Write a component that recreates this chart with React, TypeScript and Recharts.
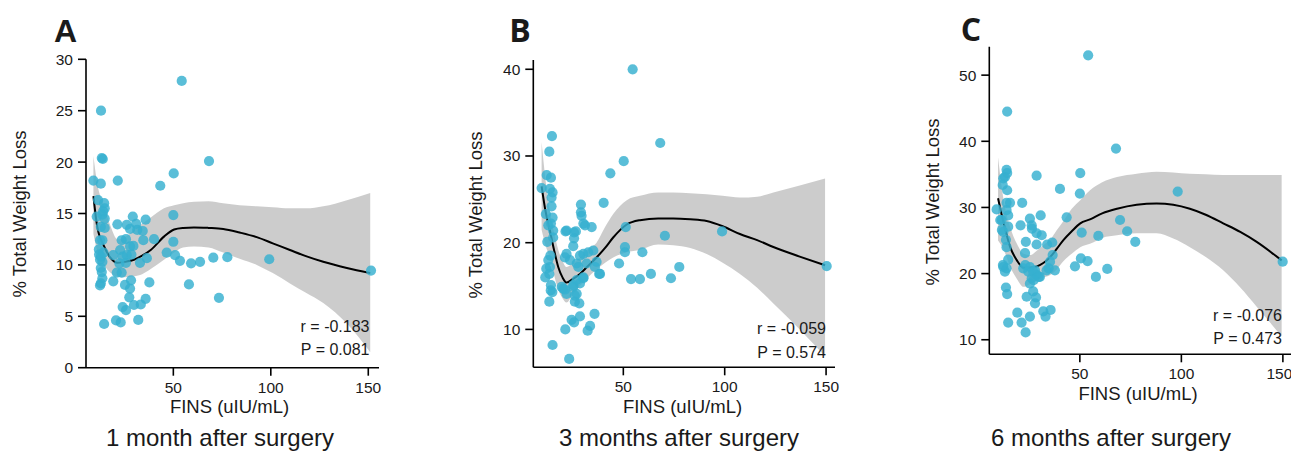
import React from 'react';
import { ComposedChart, Scatter, Area, Line, XAxis, YAxis } from 'recharts';

const FONT = '"Liberation Sans", Arial, Helvetica, sans-serif';
const TEXT = '#1a1a1a';
const POINT = '#36B0CF';

// [FINS, % total weight loss]
const oneMonthPoints = [
  [9.0, 18.2], [12.8, 17.9], [21.5, 18.2], [13.3, 20.4], [13.8, 20.3], [12.9, 25.0], [54.3, 27.9], [43.3, 17.7], [50.2, 18.9], [68.3, 20.1],
  [11.4, 16.3], [14.5, 16.0], [14.8, 15.5], [13.6, 14.9], [10.7, 14.7], [14.8, 14.5], [12.8, 13.7], [14.8, 13.6], [12.4, 12.4], [13.6, 12.4],
  [11.9, 11.0], [12.8, 10.8], [13.6, 10.3], [12.4, 10.5], [12.8, 9.7], [13.3, 9.3], [13.6, 8.7], [12.8, 8.2], [12.4, 8.0], [14.5, 4.25],
  [14.0, 15.2], [11.8, 11.5], [14.2, 11.2],
  [19.2, 8.4], [21.0, 9.25], [23.5, 9.25], [20.6, 4.6], [23.0, 4.4], [24.0, 5.9], [25.7, 5.6], [25.2, 8.05], [27.8, 7.7], [28.3, 8.5],
  [27.4, 6.85], [29.8, 6.1], [33.3, 6.15], [35.8, 6.7], [32.0, 4.65], [37.7, 8.3],
  [21.3, 13.95], [26.1, 13.9], [29.2, 14.7], [30.9, 14.0], [35.8, 14.4], [27.8, 13.5], [31.5, 13.4], [34.3, 13.3], [23.5, 12.4], [25.7, 12.5],
  [22.7, 11.45], [27.8, 11.8], [29.5, 11.85], [34.6, 12.4], [40.1, 12.5], [26.1, 10.95], [25.7, 10.2], [32.9, 10.2], [36.4, 10.65], [19.2, 10.95],
  [22.3, 10.15], [28.5, 11.0], [24.0, 10.8],
  [46.6, 11.2], [50.0, 12.25], [50.0, 14.85], [50.9, 10.95], [53.4, 10.4], [59.1, 10.15], [63.7, 10.3], [70.5, 10.7], [77.7, 10.75], [58.0, 8.1],
  [73.4, 6.8], [99.2, 10.55], [151.4, 9.45],
];

const threeMonthPoints = [
  [54.6, 40.0], [14.8, 32.3], [13.5, 30.5], [50.2, 29.4], [68.2, 31.5], [43.6, 28.0], [12.2, 27.8], [14.3, 27.5], [9.7, 26.3], [13.8, 26.2],
  [15.1, 25.8], [14.6, 25.2], [14.6, 24.2], [29.1, 24.4], [40.3, 24.6], [29.1, 23.5],
  [11.8, 23.3], [14.3, 22.2], [15.1, 22.9], [13.0, 22.0], [15.4, 21.4], [12.5, 20.1], [15.4, 20.6], [13.0, 18.0], [13.8, 17.2], [13.5, 16.4],
  [14.3, 15.1], [15.0, 14.3], [13.5, 13.2], [15.1, 8.2], [12.0, 17.0], [14.2, 14.5], [11.5, 16.0], [14.0, 18.5],
  [22.0, 21.4], [25.7, 21.2], [21.5, 21.3], [26.6, 21.3], [25.7, 20.5], [25.3, 19.6], [31.1, 22.0], [34.4, 21.8], [29.4, 23.1], [30.3, 22.2],
  [22.0, 18.7], [21.2, 18.3], [23.7, 18.0], [27.0, 17.6], [28.6, 18.5], [30.3, 18.7], [32.7, 18.9], [35.2, 19.1], [36.8, 17.8], [36.0, 17.2],
  [38.5, 16.4], [30.3, 16.0], [28.6, 15.3], [25.3, 14.9], [20.4, 14.7], [22.0, 14.1], [27.0, 14.1], [26.1, 13.2], [28.3, 13.0], [19.6, 14.9],
  [21.2, 14.6], [25.3, 15.1], [27.0, 15.7], [27.8, 17.2], [31.9, 17.6],
  [21.4, 10.0], [24.5, 11.1], [25.7, 10.8], [28.6, 11.5], [32.4, 9.85], [33.6, 10.4], [35.8, 11.8], [23.3, 6.6], [26.1, 13.9], [30.3, 15.9],
  [38.1, 16.4], [47.9, 17.6], [50.8, 19.5], [51.2, 21.8], [59.4, 18.9], [53.8, 15.8], [58.2, 15.8], [63.6, 16.4], [70.5, 20.8], [73.5, 15.9],
  [77.6, 17.2], [98.7, 21.3], [150.3, 17.3], [50.8, 18.9],
];

const sixMonthPoints = [
  [54.1, 53.0], [14.2, 44.5], [67.8, 38.9], [13.9, 35.7], [14.2, 35.2], [13.1, 34.6], [12.3, 34.4], [12.0, 33.4], [14.2, 32.6], [28.7, 34.8],
  [50.2, 35.2], [40.2, 32.8], [50.0, 32.1], [98.2, 32.4], [21.6, 30.7], [13.9, 30.7], [15.6, 30.7], [9.0, 29.7],
  [11.5, 28.1], [14.7, 28.8], [13.9, 29.6], [12.3, 26.3], [14.7, 27.1], [13.6, 25.1], [13.9, 24.0], [14.7, 22.1], [12.3, 21.0], [13.9, 20.8],
  [13.1, 20.3], [13.6, 17.9], [14.2, 16.9], [14.7, 12.6], [10.8, 28.1], [11.6, 26.6], [12.1, 21.3],
  [20.8, 27.3], [23.4, 24.8], [25.4, 28.3], [26.3, 27.3], [30.7, 28.8], [28.7, 26.1], [31.2, 25.8], [28.7, 24.4], [33.9, 24.4], [36.4, 24.7],
  [23.0, 23.1], [36.6, 22.8], [35.3, 21.8], [43.5, 28.5], [26.4, 26.8],
  [22.1, 20.8], [25.4, 21.0], [27.0, 20.3], [26.3, 19.3], [28.7, 19.8], [30.3, 19.5], [25.4, 18.5], [27.9, 20.5], [24.6, 20.3], [33.6, 20.5],
  [37.7, 20.5], [29.7, 19.5], [27.2, 19.0], [34.6, 20.8], [23.1, 21.3],
  [27.0, 17.3], [28.4, 16.4], [23.8, 16.5], [27.9, 15.5], [32.0, 14.3], [35.6, 14.5], [33.1, 13.5], [19.2, 14.1], [21.3, 12.6], [25.4, 13.5],
  [23.3, 11.1],
  [50.9, 26.2], [59.1, 25.7], [69.8, 28.1], [73.3, 26.4], [77.3, 24.8], [47.6, 21.1], [50.5, 22.3], [53.8, 21.9], [57.9, 19.5], [63.5, 20.7],
  [149.9, 21.8],
];

// smoother: fitted value and confidence band
const oneMonthCurveX = [9, 11, 14.5, 17.9, 21.3, 25, 29.8, 34, 38.4, 45.2, 50.4, 55, 60.6, 68, 75.6, 84, 92.8, 101, 109.8, 118, 126.9, 139, 151];
const oneMonthFit = [16.7, 13.7, 11.8, 10.65, 10.2, 10.3, 10.5, 10.9, 11.45, 12.75, 13.45, 13.6, 13.65, 13.6, 13.5, 13.15, 12.7, 12.1, 11.45, 10.85, 10.3, 9.7, 9.2];
const oneMonthLower = [13.0, 11.3, 10.0, 9.2, 8.85, 8.8, 8.9, 9.1, 9.6, 10.5, 11.2, 11.7, 11.8, 11.7, 11.2, 10.6, 10.0, 9.2, 8.2, 7.3, 6.3, 4.3, 1.5];
const oneMonthUpper = [20.6, 17.9, 15.7, 13.7, 12.5, 12.7, 13.4, 14.0, 14.6, 15.5, 15.8, 16.0, 16.15, 16.2, 16.0, 15.8, 15.7, 15.6, 15.5, 15.5, 15.7, 16.3, 17.0];

const threeMonthCurveX = [9.7, 11.5, 13.8, 15.8, 17.9, 20, 22, 25, 28.6, 32.5, 36.8, 41, 45, 51.7, 58.2, 67.2, 74.6, 83, 91.1, 99, 107.5, 116, 124, 137, 149.5];
const threeMonthFit = [26.5, 23.8, 21.4, 19.2, 17.2, 16.0, 15.4, 15.8, 16.4, 17.3, 18.3, 19.4, 20.6, 22.1, 22.6, 22.8, 22.8, 22.7, 22.5, 21.9, 21.0, 20.3, 19.5, 18.4, 17.4];
const threeMonthLower = [21.5, 19.8, 18.2, 16.3, 14.6, 13.6, 13.1, 14.0, 15.0, 16.0, 16.9, 17.7, 18.3, 18.9, 19.2, 19.8, 19.7, 19.4, 18.7, 17.7, 16.4, 14.8, 13.0, 10.0, 6.9];
const threeMonthUpper = [31.6, 27.5, 23.6, 21.2, 19.2, 17.9, 17.2, 17.6, 18.3, 19.3, 20.0, 21.8, 23.3, 24.9, 25.4, 25.8, 25.8, 25.7, 25.6, 25.4, 25.2, 25.3, 25.8, 26.6, 27.4];

const sixMonthCurveX = [9.7, 12.5, 15.7, 19, 22.3, 25.5, 28.9, 32, 35.4, 38.5, 42, 46, 50.2, 55, 61, 68.3, 78, 87.8, 96, 104.2, 112, 120.6, 129, 137.1, 149.4];
const sixMonthFit = [31.4, 27.6, 24.0, 22.0, 20.9, 20.9, 21.1, 21.6, 22.5, 23.7, 25.1, 26.4, 27.6, 28.2, 29.1, 29.8, 30.4, 30.6, 30.4, 29.8, 28.9, 27.6, 26.3, 24.8, 22.0];
const sixMonthLower = [25.0, 23.6, 21.0, 19.2, 18.0, 18.4, 19.0, 19.4, 19.8, 20.6, 21.9, 23.0, 24.0, 24.5, 25.4, 25.8, 26.1, 26.1, 25.3, 24.0, 22.5, 20.5, 17.9, 15.0, 10.5];
const sixMonthUpper = [37.6, 31.1, 27.0, 24.5, 23.0, 22.8, 23.5, 24.3, 25.1, 26.5, 28.0, 29.8, 31.1, 32.6, 33.8, 34.6, 35.1, 35.4, 35.3, 35.1, 35.0, 34.9, 34.9, 34.9, 34.9];

const xTicks = [50, 100, 150];
const oneMonthYTicks = [0, 5, 10, 15, 20, 25, 30];
const threeMonthYTicks = [10, 20, 30, 40];
const sixMonthYTicks = [10, 20, 30, 40, 50];

const H = 452;
const Y_W = 60;
const X_H = 30;

const toPoints = (rows: number[][]) => rows.map(([x, y]) => ({ x, y }));
const toCurve = (xs: number[], fit: number[], lo: number[], hi: number[]) =>
  xs.map((x, i) => ({ x, fit: fit[i], band: [lo[i], hi[i]] }));

const axisStyle = { stroke: '#000', strokeWidth: 1.6 };
const tickStyle = { fill: TEXT, fontSize: 15.5, fontFamily: FONT };

// plain round marker, a bit bigger than the default symbol
const Dot = (props: any) => {
  const { cx, cy } = props;
  if (cx == null || cy == null) return null;
  return <circle cx={cx} cy={cy} r={5.1} fill={POINT} fillOpacity={0.82} />;
};

interface PanelProps {
  left: number;
  width: number;
  plotLeft: number;
  plotRight: number;
  plotTop: number;
  plotBottom: number;
  xDomain: [number, number];
  yDomain: [number, number];
  yTicks: number[];
  points: { x: number; y: number }[];
  curve: { x: number; fit: number; band: number[] }[];
}

const Panel: React.FC<PanelProps> = ({ left, width, plotLeft, plotRight, plotTop, plotBottom, xDomain, yDomain, yTicks, points, curve }) => {
  const margin = {
    top: plotTop,
    left: plotLeft - left - Y_W,
    right: left + width - plotRight,
    bottom: H - plotBottom - X_H,
  };
  return (
    <div style={{ position: 'absolute', left, top: 0 }}>
      <ComposedChart width={width} height={H} data={curve} margin={margin}>
        <XAxis
          dataKey="x"
          type="number"
          domain={xDomain}
          ticks={xTicks}
          height={X_H}
          tickSize={8}
          tickMargin={6}
          axisLine={axisStyle}
          tickLine={axisStyle}
          tick={tickStyle}
        />
        <YAxis
          type="number"
          domain={yDomain}
          ticks={yTicks}
          width={Y_W}
          tickSize={8}
          tickMargin={5}
          axisLine={axisStyle}
          tickLine={axisStyle}
          tick={tickStyle}
        />
        <Scatter data={points} dataKey="y" fill={POINT} shape={<Dot />} isAnimationActive={false} />
        <Area dataKey="band" type="monotone" stroke="none" fill="#000" fillOpacity={0.2} isAnimationActive={false} />
        <Line dataKey="fit" type="monotone" stroke="#000" strokeWidth={2} dot={false} isAnimationActive={false} />
      </ComposedChart>
    </div>
  );
};

const Txt = ({ x, y, size, children, weight = 400, align = 'center', rotate = false, family = FONT }: any) => {
  const tx = align === 'right' ? '-100%' : '-50%';
  return (
    <div
      style={{
        position: 'absolute',
        left: x,
        top: y,
        transform: `translate(${tx}, -50%)${rotate ? ' rotate(-90deg)' : ''}`,
        fontSize: size,
        fontWeight: weight,
        fontFamily: family,
        color: TEXT,
        lineHeight: 1,
        whiteSpace: 'nowrap',
      }}
    >
      {children}
    </div>
  );
};

export default function App() {
  return (
    <div style={{ position: 'absolute', left: 0, top: 0, width: 1291, height: H, overflow: 'hidden', background: '#fff' }}>
      <Panel
        left={0}
        width={400}
        plotLeft={86}
        plotRight={379}
        plotTop={59.3}
        plotBottom={367.7}
        xDomain={[5.2, 155.5]}
        yDomain={[0, 30]}
        yTicks={oneMonthYTicks}
        points={toPoints(oneMonthPoints)}
        curve={toCurve(oneMonthCurveX, oneMonthFit, oneMonthLower, oneMonthUpper)}
      />
      <Panel
        left={440}
        width={400}
        plotLeft={533.3}
        plotRight={835}
        plotTop={60}
        plotBottom={367.3}
        xDomain={[5.6, 154.4]}
        yDomain={[5.63, 41.07]}
        yTicks={threeMonthYTicks}
        points={toPoints(threeMonthPoints)}
        curve={toCurve(threeMonthCurveX, threeMonthFit, threeMonthLower, threeMonthUpper)}
      />
      <Panel
        left={900}
        width={391}
        plotLeft={989.3}
        plotRight={1291}
        plotTop={46.7}
        plotBottom={354.3}
        xDomain={[5.4, 154]}
        yDomain={[7.8, 54.3]}
        yTicks={sixMonthYTicks}
        points={toPoints(sixMonthPoints)}
        curve={toCurve(sixMonthCurveX, sixMonthFit, sixMonthLower, sixMonthUpper)}
      />

      <Txt x={65.5} y={31} size={32} weight={700}>A</Txt>
      <Txt x={520} y={30} size={32} weight={700} family='"Open Sans", sans-serif'>B</Txt>
      <Txt x={971} y={29} size={32} weight={700} family='"Open Sans", sans-serif'>C</Txt>

      <Txt x={20} y={214} size={18.5} rotate>% Total Weight Loss</Txt>
      <Txt x={475.5} y={215} size={18.5} rotate>% Total Weight Loss</Txt>
      <Txt x={933} y={202} size={18.5} rotate>% Total Weight Loss</Txt>

      <Txt x={229.5} y={407} size={18.5}>FINS (uIU/mL)</Txt>
      <Txt x={682.5} y={407} size={18.5}>FINS (uIU/mL)</Txt>
      <Txt x={1138} y={393.5} size={18.5}>FINS (uIU/mL)</Txt>

      <Txt x={369.5} y={327} size={16} align="right">r = -0.183</Txt>
      <Txt x={369.5} y={350} size={16} align="right">P = 0.081</Txt>
      <Txt x={826} y={328.5} size={16} align="right">r = -0.059</Txt>
      <Txt x={826} y={352.5} size={16} align="right">P = 0.574</Txt>
      <Txt x={1282} y={316} size={16} align="right">r = -0.076</Txt>
      <Txt x={1282} y={338.5} size={16} align="right">P = 0.473</Txt>

      <Txt x={220} y={438} size={24}>1 month after surgery</Txt>
      <Txt x={679} y={438} size={24}>3 months after surgery</Txt>
      <Txt x={1111} y={438} size={24}>6 months after surgery</Txt>
    </div>
  );
}
